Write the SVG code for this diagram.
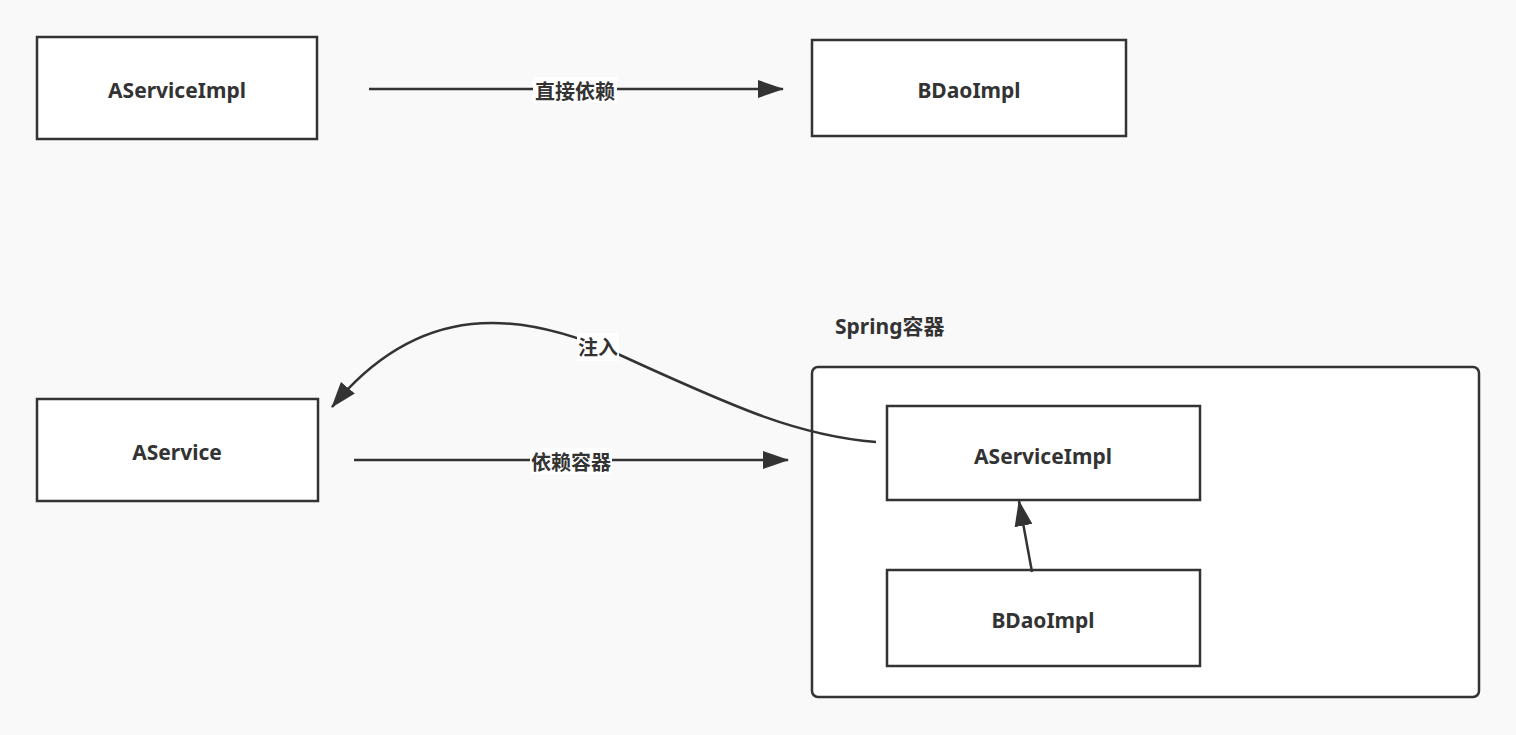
<svg xmlns="http://www.w3.org/2000/svg" width="1516" height="735" viewBox="0 0 1516 735">
<defs>
<marker id="ahl" markerWidth="26" markerHeight="18" refX="25" refY="9" orient="auto" markerUnits="userSpaceOnUse"><path d="M0,0 L26,9 L0,18 Z" fill="#333"/></marker>
<style>
.box{fill:#fff;stroke:#333;stroke-width:2.5}
.lbl{font-family:"Noto Sans","Noto Sans CJK SC",sans-serif;font-weight:bold;font-size:21px;fill:#333;text-anchor:middle;dominant-baseline:central}
.edge{fill:none;stroke:#333;stroke-width:2.5}
.elbl{font-family:"Noto Sans CJK SC",sans-serif;font-weight:bold;font-size:20px;fill:#333;text-anchor:middle;dominant-baseline:central}
.bg{fill:#fff}
</style>
</defs>
<rect width="1516" height="735" fill="#f9f9f9"/>
<g id="container">
<rect x="812" y="367" width="667" height="330" rx="6" class="box"/>
<text x="835" y="326" class="lbl" style="text-anchor:start">Spring容器</text>
</g>
<g id="aserviceimpl-top"><rect x="37" y="37" width="280" height="102" class="box"/><text x="177" y="90" class="lbl">AServiceImpl</text></g>
<g id="bdaoimpl-top"><rect x="812" y="40" width="314" height="96" class="box"/><text x="969" y="90" class="lbl">BDaoImpl</text></g>
<g id="aservice"><rect x="37" y="399" width="281" height="102" class="box"/><text x="177" y="452" class="lbl">AService</text></g>
<g id="aserviceimpl-inner"><rect x="887" y="406" width="313" height="94" class="box"/><text x="1043" y="456" class="lbl">AServiceImpl</text></g>
<g id="bdaoimpl-inner"><rect x="887" y="570" width="313" height="96" class="box"/><text x="1043" y="620" class="lbl">BDaoImpl</text></g>
<g id="connectors">
<path d="M369,89 L783,89" class="edge" marker-end="url(#ahl)"/>
<rect x="533" y="77" width="84" height="26" class="bg"/>
<text x="575" y="90" class="elbl">直接依赖</text>
<path d="M354,460 L788,460" class="edge" marker-end="url(#ahl)"/>
<rect x="530" y="448" width="82" height="26" class="bg"/>
<text x="571" y="461" class="elbl">依赖容器</text>
<path d="M876,442 C800,436 740,410 620,355 C520,310 420,300 332,407" class="edge" marker-end="url(#ahl)"/>
<rect x="577" y="333" width="42" height="28" class="bg"/>
<text x="598" y="346" class="elbl">注入</text>
<path d="M1032,572 L1019,501" class="edge" marker-end="url(#ahl)"/>
</g>
</svg>
